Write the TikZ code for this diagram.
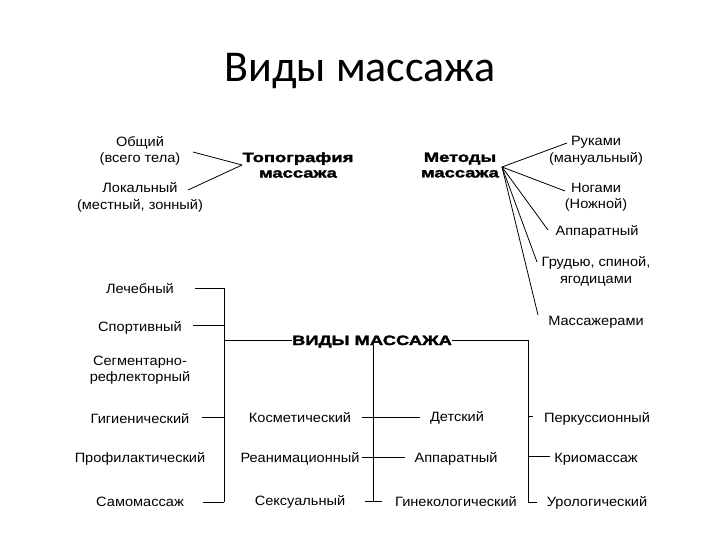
\documentclass[tikz,border=0pt]{standalone}
\usepackage{fontspec}
\setmainfont{Liberation Sans}[FakeStretch=1.08]
\newfontfamily\ttlfont{Carlito}
\newfontfamily\blkfont{Liberation Sans}[FakeStretch=1.36,FakeBold=2.2]
\begin{document}
\begin{tikzpicture}[x=1pt,y=-1pt,
  txt/.style={align=center,inner sep=0pt,font=\fontsize{13.5}{16.5}\selectfont},
  one/.style={txt,text height=12pt,text depth=0pt},
  bld/.style={align=center,inner sep=0pt,font=\fontsize{13.5}{15.5}\selectfont\blkfont\bfseries},
  ln/.style={line width=0.8pt,black}]
\useasboundingbox (0,0) rectangle (720,540);
\node[font=\fontsize{44}{50}\selectfont\ttlfont] (title) at (360,71) {Виды массажа};
% topography
\node[txt] (obsh) at (140,151) {Общий\\(всего тела)};
\node[txt] (lok) at (140,197.5) {Локальный\\(местный, зонный)};
\node[bld] (topo) at (298,165) {Топография\\массажа};
\coordinate (topoA) at (242,165);
\coordinate (obshE) at (193,152);
\coordinate (lokE) at (188,190);
\draw[ln] (obshE) -- (topoA);
\draw[ln] (lokE) -- (topoA);
% methods
\node[bld] (met) at (460,165) {Методы\\массажа};
\node[txt] (ruk) at (596,151) {Руками\\(мануальный)};
\node[txt] (nog) at (596,197.5) {Ногами\\(Ножной)};
\node[one] (app1) at (597,230) {Аппаратный};
\node[txt] (grud) at (596,271.5) {Грудью, спиной,\\ягодицами};
\node[one] (mass) at (596,319) {Массажерами};
\coordinate (metA) at (502,167);
\coordinate (e1) at (567,143);
\coordinate (e2) at (565,191);
\coordinate (e3) at (548,230);
\coordinate (e4) at (537,262);
\coordinate (e5) at (538,315);
\foreach \e in {e1,e2,e3,e4,e5} \draw[ln] (metA) -- (\e);
% main
\node[bld,text height=10pt,text depth=0pt] (vidy) at (372,340) {ВИДЫ МАССАЖА};
\node[one] (lech) at (140,287) {Лечебный};
\node[one] (sport) at (140,325) {Спортивный};
\node[txt] (segm) at (140,370) {Сегментарно-\\рефлекторный};
\node[one] (gig) at (140,417) {Гигиенический};
\node[one] (prof) at (140,456) {Профилактический};
\node[one] (samo) at (140,500) {Самомассаж};
\node[one] (kosm) at (300,416) {Косметический};
\node[one] (rean) at (300,456) {Реанимационный};
\node[one] (seks) at (300,499) {Сексуальный};
\node[one] (det) at (457,415) {Детский};
\node[one] (app2) at (456,456) {Аппаратный};
\node[one] (gin) at (456,500) {Гинекологический};
\node[one] (perk) at (597,416) {Перкуссионный};
\node[one] (krio) at (596,456) {Криомассаж};
\node[one] (uro) at (597,500) {Урологический};
% left bus
\draw[ln] (224,288) -- (224,502);
\draw[ln] (195,288) -- (224,288);
\draw[ln] (193,325) -- (224,325);
\draw[ln] (202,417) -- (224,417);
\draw[ln] (203,502) -- (224,502);
\draw[ln] (224,340) -- (vidy.west);
% middle bus
\draw[ln] (373,345) -- (373,502);
\draw[ln] (362,417) -- (420,417);
\draw[ln] (362,457) -- (405,457);
\draw[ln] (365,501) -- (382,501);
% right bus
\draw[ln] (vidy.east) -- (528,340) -- (528,502);
\draw[ln] (528,416) -- (533,416);
\draw[ln] (528,456) -- (550,456);
\draw[ln] (528,502) -- (537,502);
\end{tikzpicture}
\end{document}
